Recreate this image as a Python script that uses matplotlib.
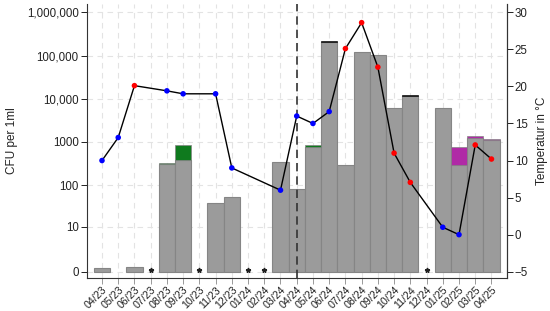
import numpy as np
import matplotlib
matplotlib.use("Agg")
import matplotlib.pyplot as plt

plt.rcParams['font.family'] = ['Liberation Sans', 'DejaVu Sans']

months = ["04/23", "05/23", "06/23", "07/23", "08/23", "09/23", "10/23", "11/23",
          "12/23", "01/24", "02/24", "03/24", "04/24", "05/24", "06/24", "07/24",
          "08/24", "09/24", "10/24", "11/24", "12/24", "01/25", "02/25", "03/25", "04/25"]
nan = np.nan
# CFU per 1 ml (main fraction, grey)
cfu_grey = [0.2, nan, 0.3, nan, 305, 385, nan, 37, 53, nan, nan, 340, 79, 775,
            200000, 290, 121000, 102000, 6100, 11300, nan, 6100, 295, 1250, 1100]
# additional fractions stacked on top
cfu_green = [0, 0, 0, 0, 25, 465, 0, 0, 0, 0, 0, 0, 0, 60,
             0, 0, 0, 0, 0, 0, 0, 0, 0, 0, 0]
cfu_black = [0, 0, 0, 0, 0, 0, 0, 0, 0, 0, 0, 0, 0, 0,
             16000, 0, 0, 0, 0, 900, 0, 0, 0, 0, 0]
cfu_purple = [0, 0, 0, 0, 0, 0, 0, 0, 0, 0, 0, 0, 0, 0,
              0, 0, 0, 0, 0, 0, 0, 0, 480, 100, 90]
no_sample = ["07/23", "10/23", "01/24", "02/24", "12/24"]
temperature = [10.0, 13.1, 20.1, nan, 19.4, 19.0, nan, 19.0, 9.0, nan, nan, 6.0, 16.0,
               15.0, 16.6, 25.1, 28.6, 22.6, 11.0, 7.05, nan, 1.0, 0.0, 12.1, 10.2]
temp_color = ["blue", "blue", "red", None, "blue", "blue", None, "blue", "blue", None, None,
              "blue", "blue", "blue", "blue", "red", "red", "red", "red", "red", None,
              "blue", "blue", "red", "red"]
event_month = "04/24"

ytick_vals = [0, 10, 100, 1000, 10000, 100000, 1000000]
ytick_labels = ["0", "10", "100", "1000", "10,000", "100,000", "1,000,000"]
rtick_vals = [-5, 0, 5, 10, 15, 20, 25, 30]

def lg(v):
    return np.log10(np.asarray(v, dtype=float) + 1)

fig = plt.figure(figsize=(5.5, 3.11), dpi=100)
ax = fig.add_axes([0.158, 0.106, 0.763, 0.881])
x = np.arange(len(months))

grey = np.array(cfu_grey, dtype=float)
g0 = np.nan_to_num(grey)
green = np.array(cfu_green, float)
black = np.array(cfu_black, float)
purple = np.array(cfu_purple, float)

base = lg(g0)
mask = ~np.isnan(grey)
ax.bar(x[mask], base[mask], width=1.0, color="#9b9b9b", edgecolor="#858585", linewidth=0.8, zorder=2)
prev = g0.copy()
for arr, col in [(green, "#0f7a1e"), (black, "#111111"), (purple, "#b02aa6")]:
    sel = arr > 0
    if sel.any():
        top = lg(prev + arr)
        bot = lg(prev)
        ax.bar(x[sel], (top - bot)[sel], bottom=bot[sel], width=1.0, color=col,
               edgecolor="#858585" if col != "#111111" else col, linewidth=0.5, zorder=2)
    prev = prev + arr

for m in no_sample:
    i = months.index(m)
    ax.plot(i, 0.05, marker="*", color="#222222", markersize=3.5, zorder=3, linestyle="none")

ei = months.index(event_month)
ax.axvline(ei, color="#333333", linestyle=(0, (5, 3)), linewidth=1.2, zorder=4)

ax.set_ylim(-0.146, 6.19)
ax.set_xlim(-0.93, len(months) - 1 + 0.93)
ax.set_yticks(lg(ytick_vals))
ax.set_yticklabels(ytick_labels)
ax.set_xticks(x)
ax.set_xticklabels(months, rotation=45, ha="right", rotation_mode="anchor")
ax.set_ylabel("CFU per 1ml", fontsize=8.5, color="#222222", labelpad=6)
ax.grid(True, color="#e3e3e3", linestyle=(0, (5, 4)), linewidth=0.8, zorder=0)
ax.set_axisbelow(True)
for s in ["top"]:
    ax.spines[s].set_visible(False)
for s in ["left", "bottom", "right"]:
    ax.spines[s].set_color("#333333")
    ax.spines[s].set_linewidth(0.8)
ax.tick_params(axis="y", labelsize=8.3, colors="#222222", length=4, width=0.7, pad=2)
ax.tick_params(axis="x", labelsize=7.7, labelcolor="#222222", color="#999999", length=4, width=0.7, pad=1)

ax2 = ax.twinx()
ax2.set_position(ax.get_position())
lo, hi = ax.get_ylim()
ax2.set_ylim(-5 + lo * 35 / 6, -5 + hi * 35 / 6)
ax2.set_yticks(rtick_vals)
ax2.tick_params(axis="y", labelsize=8.3, colors="#222222", length=4, width=0.7, pad=2)
ax2.set_ylabel("Temperatur in °C", fontsize=8.5, color="#222222", labelpad=6)
for s in ["top", "left", "bottom"]:
    ax2.spines[s].set_visible(False)
ax2.spines["right"].set_color("#333333")
ax2.spines["right"].set_linewidth(0.8)

t = np.array(temperature, float)
tm = ~np.isnan(t)
ax2.plot(x[tm], t[tm], color="black", linewidth=1.0, zorder=5)
cols = [c for c, ok in zip(temp_color, tm) if ok]
ax2.scatter(x[tm], t[tm], c=cols, s=16, zorder=6, edgecolors="none")

fig.savefig("out.png", dpi=100)
